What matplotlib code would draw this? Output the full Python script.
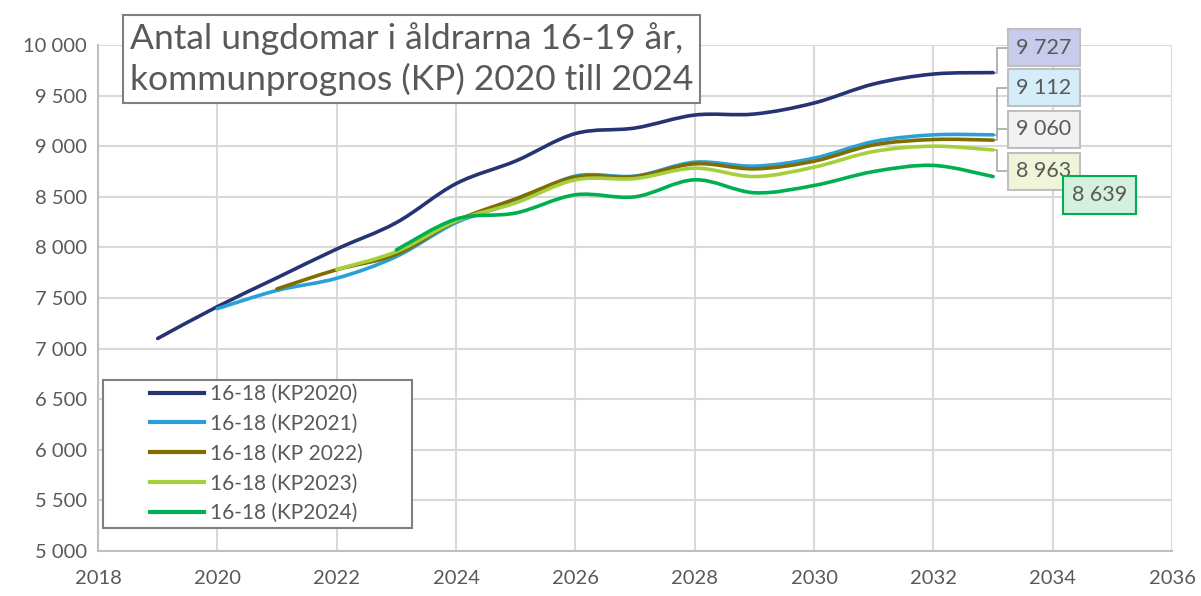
import numpy as np
import matplotlib
matplotlib.use("Agg")
import matplotlib.pyplot as plt
from matplotlib.path import Path
from matplotlib.patches import PathPatch, Rectangle
from matplotlib.ticker import FuncFormatter

plt.rcParams["font.family"] = ["Lato", "DejaVu Sans"]

# prognosis series, 16-18 year olds
YEARS_2020 = [2019, 2020, 2021, 2022, 2023, 2024, 2025, 2026, 2027, 2028, 2029, 2030, 2031, 2032, 2033]
KP2020 = [7100, 7415, 7700, 7984, 8245, 8630, 8854, 9125, 9180, 9308, 9318, 9427, 9615, 9713, 9727]

YEARS_2021 = [2020, 2021, 2022, 2023, 2024, 2025, 2026, 2027, 2028, 2029, 2030, 2031, 2032, 2033]
KP2021 = [7395, 7575, 7695, 7910, 8245, 8450, 8705, 8705, 8842, 8803, 8882, 9046, 9112, 9112]

YEARS_2022 = [2021, 2022, 2023, 2024, 2025, 2026, 2027, 2028, 2029, 2030, 2031, 2032, 2033]
KP2022 = [7590, 7780, 7932, 8262, 8480, 8695, 8700, 8826, 8776, 8852, 9013, 9066, 9060]

YEARS_2023 = [2022, 2023, 2024, 2025, 2026, 2027, 2028, 2029, 2030, 2031, 2032, 2033]
KP2023 = [7783, 7958, 8262, 8440, 8668, 8680, 8783, 8700, 8793, 8948, 9000, 8963]

YEARS_2024 = [2023, 2024, 2025, 2026, 2027, 2028, 2029, 2030, 2031, 2032, 2033]
KP2024 = [7975, 8280, 8340, 8520, 8500, 8668, 8540, 8612, 8750, 8810, 8700]

LABELS = ["16-18 (KP2020)", "16-18 (KP2021)", "16-18 (KP 2022)", "16-18 (KP2023)", "16-18 (KP2024)"]
END_LABELS = [9727, 9112, 9060, 8963, 8639]

COLORS = ["#263473", "#2aa0d8", "#7f6d00", "#a6cf3c", "#00b050"]
BOX_FACES = ["#c9cbec", "#d4edf8", "#f2f2f2", "#eef5d8", "#d4f0de"]
BOX_EDGES = ["#bfbfbf", "#bfbfbf", "#bfbfbf", "#bfbfbf", "#00b050"]
# label box centres (year, value)
BOX_POS = [(2033.85, 9975), (2033.85, 9580), (2033.85, 9168), (2033.85, 8752), (2034.78, 8518)]

TEXT = "#595959"


def smooth_path(x, y):
    # Excel style smoothed line: cubic bezier through every point
    x = np.asarray(x, float)
    y = np.asarray(y, float)
    pts = np.column_stack([x, y])
    n = len(pts)
    verts = [pts[0]]
    codes = [Path.MOVETO]
    for i in range(n - 1):
        p0 = pts[i - 1] if i > 0 else pts[i]
        p1 = pts[i]
        p2 = pts[i + 1]
        p3 = pts[i + 2] if i + 2 < n else pts[i + 1]
        c1 = p1 + (p2 - p0) / 6
        c2 = p2 - (p3 - p1) / 6
        verts += [c1, c2, p2]
        codes += [Path.CURVE4] * 3
    return Path(verts, codes)


fig, ax = plt.subplots(figsize=(12.01, 5.96), dpi=100)
fig.subplots_adjust(left=0.0816, right=0.976, bottom=0.0755, top=0.9245)

series = [(YEARS_2020, KP2020), (YEARS_2021, KP2021), (YEARS_2022, KP2022),
          (YEARS_2023, KP2023), (YEARS_2024, KP2024)]

for (x, y), c, lab in zip(series, COLORS, LABELS):
    ax.add_patch(PathPatch(smooth_path(x, y), fill=False, edgecolor=c, lw=2.6,
                           capstyle="round", zorder=3))
    ax.plot([], [], color=c, lw=3, label=lab)

# leader lines and end labels
for (x, y), val, (bx, by), fc, ec in zip(series, END_LABELS, BOX_POS, BOX_FACES, BOX_EDGES):
    if ec == "#bfbfbf":
        ax.plot([x[-1], x[-1] + 0.07, x[-1] + 0.07, bx - 0.58], [y[-1], y[-1], by, by],
                color="#a6a6a6", lw=1.2, zorder=2, clip_on=False)
    ax.text(bx, by, f"{val:,}".replace(",", " "), ha="center", va="center",
            fontsize=15.5, color=TEXT, zorder=5,
            bbox=dict(boxstyle="square,pad=0.4", fc=fc, ec=ec, lw=1.5))

ax.set_xlim(2018, 2036)
ax.set_ylim(5000, 10000)
ax.set_xticks(np.arange(2018, 2037, 2))
ax.set_yticks(np.arange(5000, 10001, 500))
ax.yaxis.set_major_formatter(FuncFormatter(lambda v, p: f"{int(v):,}".replace(",", " ")))
ax.tick_params(length=0, labelsize=14.5, labelcolor=TEXT)
ax.tick_params(axis="y", pad=8)
ax.tick_params(axis="x", pad=14)
ax.grid(True, color="#d9d9d9", lw=1.5)
ax.set_axisbelow(True)
for s in ["top", "right"]:
    ax.spines[s].set_visible(False)
for s in ["left", "bottom"]:
    ax.spines[s].set_color("#bfbfbf")
    ax.spines[s].set_linewidth(1.5)

# legend frame drawn separately, entries centred inside it
ax.add_patch(Rectangle((103 / 1201, 68 / 596), 309 / 1201, 148 / 596,
                       transform=fig.transFigure, fc="white", ec="#7f7f7f",
                       lw=1.5, zorder=4, clip_on=False))
leg = ax.legend(loc="upper left", bbox_to_anchor=(150 / 1201, 1 - 384 / 596),
                bbox_transform=fig.transFigure, fontsize=15, frameon=False,
                handlelength=2.6, handletextpad=0.3, labelspacing=0.47,
                borderpad=0, borderaxespad=0)
leg.set_zorder(6)
for t in leg.get_texts():
    t.set_color(TEXT)

fig.text(0.1082, 1 - 59 / 596, "Antal ungdomar i åldrarna 16-19 år,\nkommunprognos (KP) 2020 till 2024",
         fontsize=25.5, color=TEXT, ha="left", va="center", linespacing=1.32,
         bbox=dict(boxstyle="square,pad=0.2", fc="white", ec="#7f7f7f", lw=1.5))

fig.savefig("out.png", dpi=100)
